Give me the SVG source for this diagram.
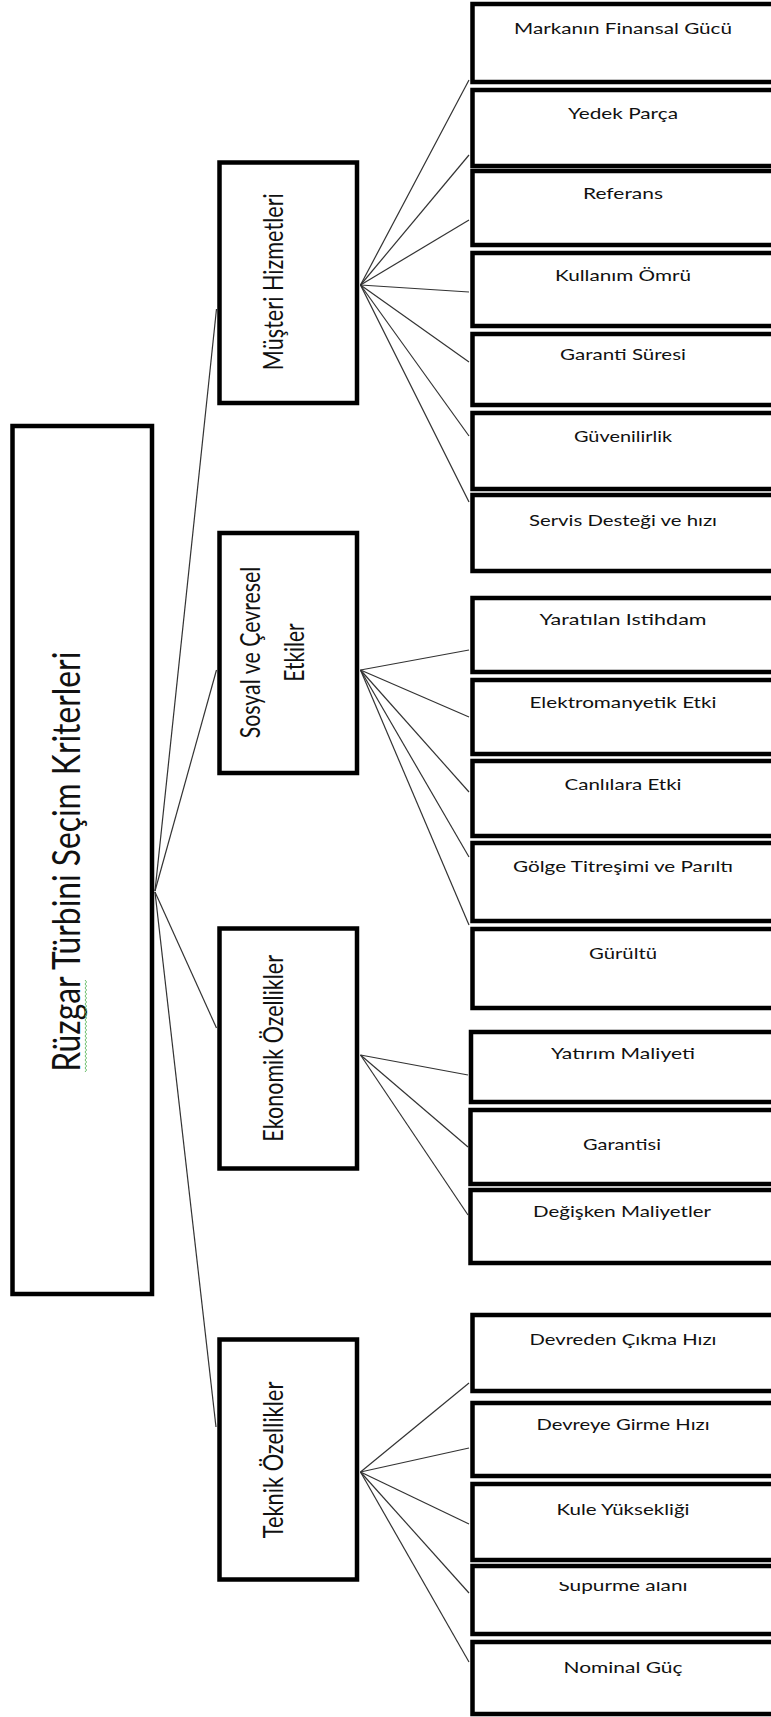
<svg xmlns="http://www.w3.org/2000/svg" width="771" height="1717" viewBox="0 0 771 1717">
<style>
.box{fill:#fff;stroke:#000;stroke-width:4.5}
.leaf{font-family:Lato,'Open Sans',sans-serif;font-size:16px;fill:#111;text-anchor:middle}
.mid{font-family:Lato,'Open Sans',sans-serif;font-size:27px;fill:#111;text-anchor:middle}
.root{font-family:Lato,'Open Sans',sans-serif;font-size:39.5px;fill:#111;text-anchor:middle}
.conn line{stroke:#333;stroke-width:1.2}
</style>
<defs>
<clipPath id="clipSup"><rect x="470" y="1582" width="300" height="40"/></clipPath>
</defs>
<rect width="771" height="1717" fill="#fff"/>

<g id="connectors" class="conn">
<line x1="155" y1="891" x2="216.5" y2="309"/>
<line x1="155" y1="891" x2="216.5" y2="670"/>
<line x1="155" y1="892" x2="216.5" y2="1028"/>
<line x1="155" y1="892" x2="216" y2="1427"/>
<line x1="360.5" y1="285" x2="469" y2="80"/>
<line x1="360.5" y1="285" x2="469" y2="155"/>
<line x1="360.5" y1="285" x2="469" y2="220"/>
<line x1="360.5" y1="285" x2="469" y2="292"/>
<line x1="360.5" y1="285" x2="469" y2="362"/>
<line x1="360.5" y1="285" x2="469" y2="436"/>
<line x1="360.5" y1="285" x2="469" y2="502"/>
<line x1="360.5" y1="670" x2="469" y2="650"/>
<line x1="360.5" y1="670" x2="469" y2="717"/>
<line x1="360.5" y1="670" x2="469" y2="792"/>
<line x1="360.5" y1="670" x2="469" y2="857"/>
<line x1="360.5" y1="670" x2="469" y2="925"/>
<line x1="360.5" y1="1055" x2="468" y2="1075"/>
<line x1="360.5" y1="1055" x2="468" y2="1147"/>
<line x1="360.5" y1="1055" x2="468" y2="1215"/>
<line x1="360.5" y1="1472" x2="469" y2="1383"/>
<line x1="360.5" y1="1472" x2="469" y2="1448"/>
<line x1="360.5" y1="1472" x2="469" y2="1524"/>
<line x1="360.5" y1="1472" x2="469" y2="1593"/>
<line x1="360.5" y1="1472" x2="469" y2="1662"/>
</g>

<g id="root">
<rect class="box" x="12.5" y="426" width="139.5" height="868"/>
<text class="root" transform="translate(80,861.7) rotate(-90)" textLength="420" lengthAdjust="spacingAndGlyphs">Rüzgar Türbini Seçim Kriterleri</text>
<polyline points="85,980 86.6,982 85,984 86.6,986 85,988 86.6,990 85,992 86.6,994 85,996 86.6,998 85,1000 86.6,1002 85,1004 86.6,1006 85,1008 86.6,1010 85,1012 86.6,1014 85,1016 86.6,1018 85,1020 86.6,1022 85,1024 86.6,1026 85,1028 86.6,1030 85,1032 86.6,1034 85,1036 86.6,1038 85,1040 86.6,1042 85,1044 86.6,1046 85,1048 86.6,1050 85,1052 86.6,1054 85,1056 86.6,1058 85,1060 86.6,1062 85,1064 86.6,1066 85,1068 86.6,1070 85,1072" fill="none" stroke="#5cb85c" stroke-width="0.9"/>
</g>

<g id="musteri">
<rect class="box" x="219.5" y="162.5" width="137.5" height="240.5"/>
<text class="mid" transform="translate(282.7,281.7) rotate(-90)" textLength="177" lengthAdjust="spacingAndGlyphs">Müşteri Hizmetleri</text>
</g>
<g id="sosyal">
<rect class="box" x="219.5" y="533" width="137.5" height="240"/>
<text class="mid" transform="translate(260,652.5) rotate(-90)" textLength="171.7" lengthAdjust="spacingAndGlyphs">Sosyal ve Çevresel</text>
<text class="mid" transform="translate(304,652.5) rotate(-90)" textLength="58.3" lengthAdjust="spacingAndGlyphs">Etkiler</text>
</g>
<g id="ekonomik">
<rect class="box" x="219.5" y="928.5" width="137.5" height="240"/>
<text class="mid" transform="translate(282.7,1048.3) rotate(-90)" textLength="186.7" lengthAdjust="spacingAndGlyphs">Ekonomik Özellikler</text>
</g>
<g id="teknik">
<rect class="box" x="219.5" y="1339.5" width="137.5" height="240"/>
<text class="mid" transform="translate(282.7,1460) rotate(-90)" textLength="156.7" lengthAdjust="spacingAndGlyphs">Teknik Özellikler</text>
</g>

<g id="leaf1"><rect class="box" x="472.5" y="4" width="301.5" height="78"/><text class="leaf" x="623" y="34" textLength="218" lengthAdjust="spacingAndGlyphs">Markanın Finansal Gücü</text></g>
<g id="leaf2"><rect class="box" x="472.5" y="90" width="301.5" height="76"/><text class="leaf" x="623" y="119" textLength="110" lengthAdjust="spacingAndGlyphs">Yedek Parça</text></g>
<g id="leaf3"><rect class="box" x="472.5" y="171" width="301.5" height="74"/><text class="leaf" x="623" y="199" textLength="80" lengthAdjust="spacingAndGlyphs">Referans</text></g>
<g id="leaf4"><rect class="box" x="472.5" y="253" width="301.5" height="73"/><text class="leaf" x="623" y="281" textLength="136" lengthAdjust="spacingAndGlyphs">Kullanım Ömrü</text></g>
<g id="leaf5"><rect class="box" x="472.5" y="334" width="301.5" height="71"/><text class="leaf" x="623" y="360" textLength="126" lengthAdjust="spacingAndGlyphs">Garanti Süresi</text></g>
<g id="leaf6"><rect class="box" x="472.5" y="413" width="301.5" height="76"/><text class="leaf" x="623" y="442" textLength="98" lengthAdjust="spacingAndGlyphs">Güvenilirlik</text></g>
<g id="leaf7"><rect class="box" x="472.5" y="495" width="301.5" height="76"/><text class="leaf" x="623" y="526" textLength="188" lengthAdjust="spacingAndGlyphs">Servis Desteği ve hızı</text></g>
<g id="leaf8"><rect class="box" x="472.5" y="598" width="301.5" height="74"/><text class="leaf" x="623" y="625" textLength="167" lengthAdjust="spacingAndGlyphs">Yaratılan Istihdam</text></g>
<g id="leaf9"><rect class="box" x="472.5" y="680" width="301.5" height="74"/><text class="leaf" x="623" y="708" textLength="187" lengthAdjust="spacingAndGlyphs">Elektromanyetik Etki</text></g>
<g id="leaf10"><rect class="box" x="472.5" y="761" width="301.5" height="75"/><text class="leaf" x="623" y="790" textLength="117" lengthAdjust="spacingAndGlyphs">Canlılara Etki</text></g>
<g id="leaf11"><rect class="box" x="472.5" y="843" width="301.5" height="78"/><text class="leaf" x="623" y="872" textLength="220" lengthAdjust="spacingAndGlyphs">Gölge Titreşimi ve Parıltı</text></g>
<g id="leaf12"><rect class="box" x="472.5" y="929" width="301.5" height="79"/><text class="leaf" x="623" y="959" textLength="68" lengthAdjust="spacingAndGlyphs">Gürültü</text></g>
<g id="leaf13"><rect class="box" x="471" y="1032" width="303" height="70"/><text class="leaf" x="623" y="1059" textLength="144" lengthAdjust="spacingAndGlyphs">Yatırım Maliyeti</text></g>
<g id="leaf14"><rect class="box" x="470.5" y="1110" width="303.5" height="74"/><text class="leaf" x="622" y="1150" textLength="78" lengthAdjust="spacingAndGlyphs">Garantisi</text></g>
<g id="leaf15"><rect class="box" x="470.5" y="1190" width="303.5" height="73"/><text class="leaf" x="622" y="1217" textLength="178" lengthAdjust="spacingAndGlyphs">Değişken Maliyetler</text></g>
<g id="leaf16"><rect class="box" x="472.5" y="1315" width="301.5" height="76"/><text class="leaf" x="623" y="1345" textLength="187" lengthAdjust="spacingAndGlyphs">Devreden Çıkma Hızı</text></g>
<g id="leaf17"><rect class="box" x="472.5" y="1403" width="301.5" height="73"/><text class="leaf" x="623" y="1430" textLength="173" lengthAdjust="spacingAndGlyphs">Devreye Girme Hızı</text></g>
<g id="leaf18"><rect class="box" x="472.5" y="1484" width="301.5" height="76"/><text class="leaf" x="623" y="1515" textLength="133" lengthAdjust="spacingAndGlyphs">Kule Yüksekliği</text></g>
<g id="leaf19"><rect class="box" x="472.5" y="1566" width="301.5" height="68"/><text class="leaf" x="623" y="1591" textLength="129" lengthAdjust="spacingAndGlyphs" clip-path="url(#clipSup)">Supurme alanı</text></g>
<g id="leaf20"><rect class="box" x="472.5" y="1642" width="301.5" height="72"/><text class="leaf" x="623" y="1673" textLength="119" lengthAdjust="spacingAndGlyphs">Nominal Güç</text></g>
</svg>
